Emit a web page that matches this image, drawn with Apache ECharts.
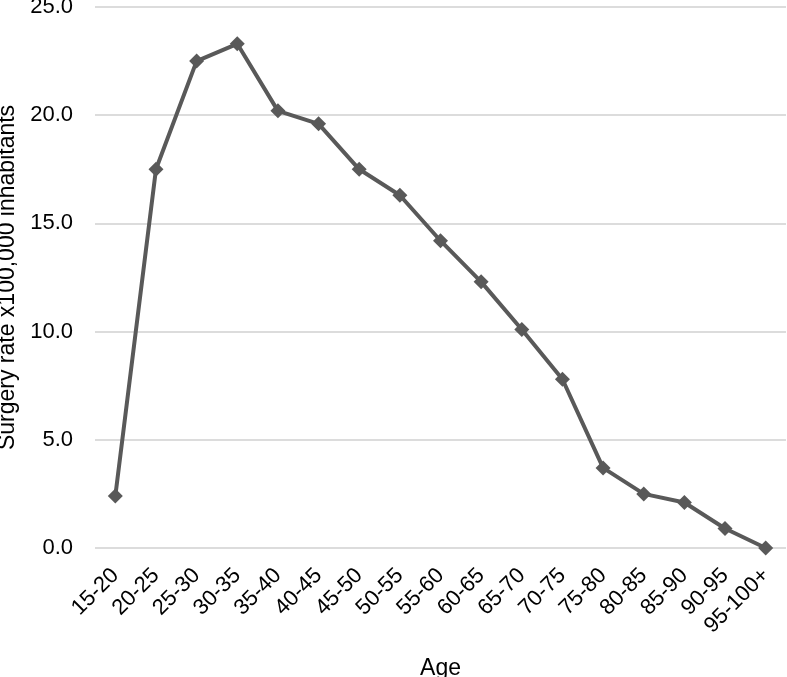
<!DOCTYPE html>
<html>
<head>
<meta charset="utf-8">
<script src="https://cdn.jsdelivr.net/npm/echarts@6/dist/echarts.min.js"></script>
<style>
  html, body { margin: 0; padding: 0; background: #fff; }
  #chart { width: 787px; height: 677px; }
</style>
</head>
<body>
<div id="chart"></div>
<script>
// age groups and surgery rate per 100,000
const ageGroups = ["15-20", "20-25", "25-30", "30-35", "35-40", "40-45", "45-50", "50-55",
  "55-60", "60-65", "65-70", "70-75", "75-80", "80-85", "85-90", "90-95", "95-100+"];
const surgeryRate = [2.4, 17.5, 22.5, 23.3, 20.2, 19.6, 17.5, 16.3,
  14.2, 12.3, 10.1, 7.8, 3.7, 2.5, 2.1, 0.9, 0.0];

const myChart = echarts.init(document.getElementById("chart"));
const option = {
  animation: false,
  textStyle: { fontFamily: "Liberation Sans, Arial, sans-serif" },
  grid: { left: 95, right: 1, top: 7, bottom: 129, outerBoundsMode: "none", containLabel: false },
  xAxis: {
    type: "category",
    data: ageGroups,
    boundaryGap: true,
    name: "Age",
    nameLocation: "middle",
    nameGap: 109,
    nameTextStyle: { fontSize: 23, color: "#000", verticalAlign: "top" },
    axisLine: { show: false },
    axisTick: { show: false },
    axisLabel: { rotate: 45, fontSize: 22, color: "#000", margin: 24, interval: 0 },
  },
  yAxis: {
    type: "value",
    min: 0,
    max: 25,
    interval: 5,
    name: "Surgery rate x100,000 inhabitants",
    nameLocation: "middle",
    nameGap: 73,
    nameTextStyle: { fontSize: 23, color: "#000" },
    axisLabel: {
      fontSize: 22,
      color: "#000",
      margin: 22,
      formatter: (v) => v.toFixed(1),
    },
    splitLine: { lineStyle: { color: "#d0d0d0", width: 1.5 } },
  },
  series: [
    {
      type: "line",
      data: surgeryRate,
      symbol: "diamond",
      symbolSize: 15,
      lineStyle: { color: "#595959", width: 4 },
      itemStyle: { color: "#595959" },
    },
  ],
};
myChart.setOption(option);
</script>
</body>
</html>
